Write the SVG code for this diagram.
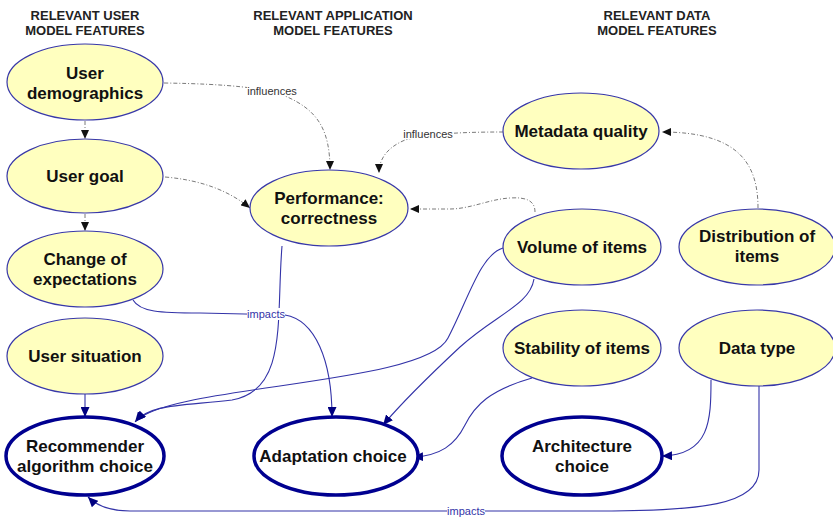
<svg xmlns="http://www.w3.org/2000/svg" width="833" height="517" viewBox="0 0 833 517">
<style>
.hdr{font-family:"Liberation Sans",Arial,sans-serif;font-weight:bold;font-size:13px;fill:#222;text-anchor:middle}
.feat{fill:#ffffbf;stroke:#3838a8;stroke-width:1.2}
.choice{fill:#fff;stroke:#000090;stroke-width:3.5}
.nt{font-family:"Liberation Sans",Arial,sans-serif;font-weight:bold;font-size:17px;fill:#111;text-anchor:middle}
.dash{fill:none;stroke:#7a7a7a;stroke-width:1;stroke-dasharray:4,2,1,2;marker-end:url(#ak)}
.blue{fill:none;stroke:#3333a8;stroke-width:1.1;marker-end:url(#ab)}
.lbl{font-family:"Liberation Sans",Arial,sans-serif;font-size:11px;text-anchor:middle}
.lk{fill:#333}
.lb{fill:#3333a8}
</style>
<defs>
<marker id="ak" markerUnits="userSpaceOnUse" markerWidth="9" markerHeight="8" refX="9" refY="4" orient="auto"><path d="M0,0 L9,4 L0,8 z" fill="#111"/></marker>
<marker id="ab" markerUnits="userSpaceOnUse" markerWidth="10" markerHeight="9" refX="10" refY="4.5" orient="auto"><path d="M0,0 L10,4.5 L0,9 z" fill="#000080"/></marker>
</defs>
<rect width="833" height="517" fill="#fff"/>
<g id="headers">
<text class="hdr" x="85" y="20">RELEVANT USER</text>
<text class="hdr" x="85" y="35">MODEL FEATURES</text>
<text class="hdr" x="333" y="20">RELEVANT APPLICATION</text>
<text class="hdr" x="333" y="35">MODEL FEATURES</text>
<text class="hdr" x="657" y="20">RELEVANT DATA</text>
<text class="hdr" x="657" y="35">MODEL FEATURES</text>
</g>
<g id="connectors">
<path class="dash" d="M164,83 C230,84 265,88 285,96 C318,110 330,130 330,170"/>
<path class="dash" d="M165,177 C200,180 228,190 250,208"/>
<path class="dash" d="M503,132 C470,132 430,133 405,140 C386,148 379,160 379,173"/>
<path class="dash" d="M535,212 C535,200 525,197 510,198 C490,199 470,209 450,209 L410,209"/>
<path class="dash" d="M758,208 C758,165 740,132 662,132"/>
<path class="dash" d="M85,121 L85,139"/>
<path class="dash" d="M85,214 L85,231"/>
<path class="blue" d="M85,394 L85,417"/>
<path class="blue" d="M133,300 C140,312 160,313 200,313 L285,315 C315,320 332,360 332,417"/>
<path class="blue" d="M282,246 C276,320 288,390 232,400 C180,406 150,404 135,422"/>
<path class="blue" d="M503,248 C480,255 468,300 448,338 C425,385 170,385 136,421"/>
<path class="blue" d="M534,279 C530,305 495,315 460,347 C430,375 400,405 383,425"/>
<path class="blue" d="M532,378 C490,390 475,405 465,425 C455,445 440,456 413,457"/>
<path class="blue" d="M711,380 C711,420 710,455 662,456"/>
<path class="blue" d="M759,386 L759,470 C759,505 700,511 600,511 L130,511 C110,511 96,505 88,497"/>
<rect x="247" y="85" width="50" height="11" fill="#fff"/>
<text class="lbl lk" x="272" y="95">influences</text>
<rect x="403" y="128" width="50" height="11" fill="#fff"/>
<text class="lbl lk" x="428" y="138">influences</text>
<rect x="247" y="308" width="38" height="12" fill="#fff"/>
<text class="lbl lb" x="266" y="318">impacts</text>
<rect x="447" y="505" width="38" height="12" fill="#fff"/>
<text class="lbl lb" x="466" y="515">impacts</text>
</g>
<g id="user-demographics"><ellipse class="feat" cx="85" cy="82" rx="78" ry="38"/><text class="nt" x="85" y="79">User</text><text class="nt" x="85" y="99">demographics</text></g>
<g id="user-goal"><ellipse class="feat" cx="85" cy="176" rx="78" ry="37"/><text class="nt" x="85" y="182">User goal</text></g>
<g id="change-of-expectations"><ellipse class="feat" cx="85" cy="269" rx="78" ry="38"/><text class="nt" x="85" y="265">Change of</text><text class="nt" x="85" y="285">expectations</text></g>
<g id="user-situation"><ellipse class="feat" cx="85" cy="356" rx="78" ry="38"/><text class="nt" x="85" y="362">User situation</text></g>
<g id="recommender-algorithm-choice"><ellipse class="choice" cx="85" cy="456" rx="79" ry="39"/><text class="nt" x="85" y="452">Recommender</text><text class="nt" x="85" y="472">algorithm choice</text></g>
<g id="performance-correctness"><ellipse class="feat" cx="329" cy="208" rx="79" ry="38"/><text class="nt" x="329" y="204">Performance:</text><text class="nt" x="329" y="224">correctness</text></g>
<g id="adaptation-choice"><ellipse class="choice" cx="336" cy="456" rx="82" ry="39"/><text class="nt" x="333" y="462">Adaptation choice</text></g>
<g id="metadata-quality"><ellipse class="feat" cx="581" cy="131" rx="78" ry="38"/><text class="nt" x="581" y="137">Metadata quality</text></g>
<g id="volume-of-items"><ellipse class="feat" cx="582" cy="247" rx="79" ry="38"/><text class="nt" x="582" y="253">Volume of items</text></g>
<g id="distribution-of-items"><ellipse class="feat" cx="757" cy="247" rx="78" ry="38"/><text class="nt" x="757" y="242">Distribution of</text><text class="nt" x="757" y="262">items</text></g>
<g id="stability-of-items"><ellipse class="feat" cx="582" cy="348" rx="79" ry="38"/><text class="nt" x="582" y="354">Stability of items</text></g>
<g id="data-type"><ellipse class="feat" cx="757" cy="348" rx="78" ry="38"/><text class="nt" x="757" y="354">Data type</text></g>
<g id="architecture-choice"><ellipse class="choice" cx="582" cy="456" rx="80" ry="39"/><text class="nt" x="582" y="452">Architecture</text><text class="nt" x="582" y="472">choice</text></g>
</svg>
